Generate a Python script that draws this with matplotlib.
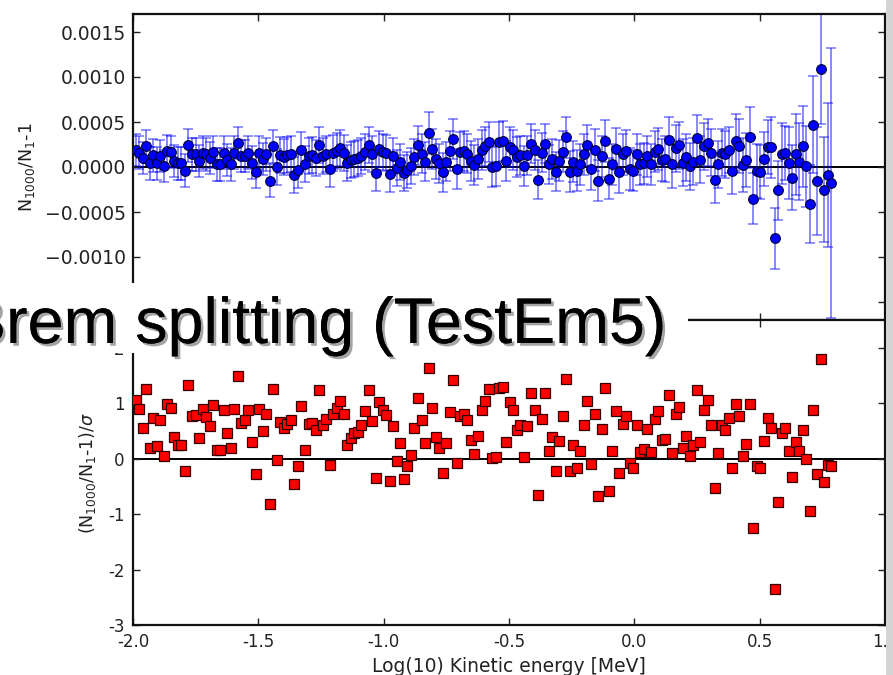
import matplotlib
matplotlib.use('Agg')
import matplotlib.pyplot as plt
import matplotlib.patheffects as pe
from matplotlib.patches import Rectangle
import numpy as np

# bin centres in log10(E/MeV)
x_first, x_last = -1.99, 0.785

# (N1000/N1 - 1) / sigma
pull = [
    1.05, 0.89, 0.55, 1.25, 0.20, 0.74, 0.22, 0.69, 0.05, 0.99,
    0.92, 0.39, 0.24, 0.24, -0.22, 1.33, 0.77, 0.78, 0.38, 0.89,
    0.75, 0.58, 0.96, 0.16, 0.16, 0.87, 0.46, 0.19, 0.89, 1.49,
    0.65, 0.69, 0.87, 0.30, -0.28, 0.89, 0.49, 0.80, -0.82, 1.25,
    -0.02, 0.66, 0.55, 0.63, 0.70, -0.46, -0.13, 0.95, 0.16, 0.62,
    0.64, 0.51, 1.23, 0.60, 0.72, -0.11, 0.80, 0.92, 1.04, 0.80,
    0.24, 0.38, 0.46, 0.48, 0.60, 0.86, 1.23, 0.68, -0.35, 1.02,
    0.87, 0.78, -0.40, 0.58, -0.05, 0.28, -0.37, -0.13, 0.07, 0.56,
    1.09, 0.69, 0.28, 1.63, 0.92, 0.39, 0.19, -0.25, 0.28, 0.84,
    1.41, -0.07, 0.77, 0.80, 0.69, 0.33, 0.09, 0.40, 0.87, 1.04,
    1.25, 0.01, 0.03, 1.28, 1.30, 0.30, 1.02, 0.87, 0.51, 0.60,
    0.03, 0.58, 1.19, 0.87, -0.65, 0.72, 1.19, 0.13, 0.39, -0.22,
    0.31, 0.76, 1.43, -0.22, 0.24, -0.17, 0.14, 0.60, 1.04, -0.09,
    0.81, -0.67, 0.54, 1.27, -0.58, 0.14, 0.86, -0.25, 0.63, 0.77,
    -0.08, -0.16, 0.60, 0.12, 0.18, 0.54, 0.12, 0.72, 0.86, 0.33,
    0.35, 1.15, 0.10, 0.80, 0.94, 0.19, 0.41, 0.05, 0.24, 1.24,
    0.30, 0.87, 1.05, 0.60, -0.53, 0.10, 0.60, 0.52, 0.74, -0.16,
    0.98, 0.76, 0.05, 0.26, 0.98, -1.25, -0.13, -0.17, 0.31, 0.74,
    0.55, -2.35, -0.79, 0.46, 0.56, 0.13, -0.34, 0.30, 0.14, 0.51,
    0.00, -0.95, 0.87, -0.27, 1.79, -0.43, -0.11, -0.13,
]

# N1000/N1 - 1 in units of 1e-4, upper panel
ratio = [
    1.9, 1.6, 1.0, 2.3, 0.4, 1.3, 0.4, 1.2, 0.1, 1.8,
    1.7, 0.7, 0.4, 0.4, -0.4, 2.4, 1.4, 1.4, 0.7, 1.6,
    1.4, 1.0, 1.7, 0.3, 0.3, 1.6, 0.8, 0.3, 1.6, 2.7,
    1.2, 1.2, 1.6, 0.5, -0.5, 1.6, 0.9, 1.4, -1.5, 2.3,
    0.0, 1.3, 1.1, 1.3, 1.4, -0.9, -0.3, 1.9, 0.3, 1.2,
    1.3, 1.0, 2.5, 1.2, 1.4, -0.2, 1.6, 1.8, 2.1, 1.6,
    0.5, 0.8, 0.9, 1.0, 1.2, 1.7, 2.5, 1.4, -0.7, 2.0,
    1.7, 1.6, -0.8, 1.2, -0.1, 0.6, -0.7, -0.3, 0.1, 1.1,
    2.4, 1.5, 0.6, 3.8, 2.0, 0.9, 0.4, -0.6, 0.6, 1.8,
    3.1, -0.2, 1.7, 1.8, 1.5, 0.7, 0.2, 0.9, 1.9, 2.3,
    2.8, 0.0, 0.1, 2.8, 2.9, 0.7, 2.2, 1.9, 1.1, 1.3,
    0.1, 1.3, 2.6, 1.9, -1.4, 1.6, 2.6, 0.3, 0.9, -0.5,
    0.7, 1.7, 3.3, -0.5, 0.6, -0.4, 0.3, 1.4, 2.4, -0.2,
    1.9, -1.5, 1.2, 2.9, -1.3, 0.3, 2.0, -0.6, 1.4, 1.8,
    -0.2, -0.4, 1.4, 0.3, 0.4, 1.2, 0.3, 1.7, 2.0, 0.8,
    0.9, 3.0, 0.3, 2.1, 2.4, 0.5, 1.1, 0.1, 0.6, 3.2,
    0.8, 2.3, 2.7, 1.6, -1.4, 0.3, 1.6, 1.4, 1.9, -0.4,
    2.9, 2.3, 0.2, 0.8, 3.3, -3.5, -0.4, -0.5, 0.9, 2.2,
    2.2, -7.9, -2.6, 1.5, 1.6, 0.5, -1.2, 1.4, 0.6, 2.3,
    0.1, -4.1, 4.7, -1.6, 10.9, -2.5, -0.9, -1.8,
]

# statistical error on the ratio, units of 1e-4
ratio_err = [
    1.8, 1.8, 1.8, 1.8, 1.8, 1.8, 1.8, 1.8, 1.8, 1.8,
    1.8, 1.8, 1.8, 1.8, 1.8, 1.8, 1.8, 1.8, 1.8, 1.8,
    1.8, 1.8, 1.8, 1.8, 1.8, 1.8, 1.8, 1.8, 1.8, 1.8,
    1.8, 1.8, 1.8, 1.8, 1.8, 1.8, 1.8, 1.8, 1.8, 1.8,
    2.0, 2.0, 2.0, 2.0, 2.0, 2.0, 2.0, 2.0, 2.0, 2.0,
    2.0, 2.0, 2.0, 2.0, 2.0, 2.0, 2.0, 2.0, 2.0, 2.0,
    2.0, 2.0, 2.0, 2.0, 2.0, 2.0, 2.0, 2.0, 2.0, 2.0,
    2.0, 2.0, 2.0, 2.0, 2.0, 2.0, 2.0, 2.0, 2.0, 2.0,
    2.2, 2.2, 2.2, 2.3, 2.2, 2.2, 2.2, 2.2, 2.2, 2.2,
    2.2, 2.2, 2.2, 2.2, 2.2, 2.2, 2.2, 2.2, 2.2, 2.2,
    2.2, 2.2, 2.2, 2.2, 2.2, 2.2, 2.2, 2.2, 2.2, 2.2,
    2.2, 2.2, 2.2, 2.2, 2.2, 2.2, 2.2, 2.2, 2.2, 2.2,
    2.3, 2.3, 2.3, 2.3, 2.3, 2.3, 2.3, 2.3, 2.3, 2.3,
    2.3, 2.3, 2.3, 2.3, 2.3, 2.3, 2.3, 2.3, 2.3, 2.3,
    2.3, 2.3, 2.3, 2.3, 2.3, 2.3, 2.3, 2.3, 2.3, 2.3,
    2.6, 2.6, 2.6, 2.6, 2.6, 2.6, 2.6, 2.6, 2.6, 2.6,
    2.6, 2.6, 2.6, 2.6, 2.6, 2.6, 2.6, 2.6, 2.6, 2.6,
    3.0, 3.0, 3.0, 3.0, 3.4, 2.8, 3.0, 3.0, 3.0, 3.0,
    3.4, 3.4, 3.3, 3.4, 3.0, 4.0, 3.6, 4.5, 4.3, 4.5,
    4.5, 4.3, 5.4, 6.0, 6.1, 5.8, 8.0, 15.0,
]

x_ticks = [-2.0, -1.5, -1.0, -0.5, 0.0, 0.5, 1.0]
x_ticklabels = ['-2.0', '-1.5', '-1.0', '-0.5', '0.0', '0.5', '1.0']
ratio_ticks = [-0.0015, -0.0010, -0.0005, 0.0, 0.0005, 0.0010, 0.0015]
pull_ticks = [-3, -2, -1, 0, 1, 2]
pull_ticklabels = ['-3', '-2', '-1', '0', '1', '2']

title = 'Brem splitting (TestEm5)'

x = np.linspace(x_first, x_last, len(pull))
ratio = np.array(ratio) * 1e-4
ratio_err = np.array(ratio_err) * 1e-4

W, H = 893, 675
fig = plt.figure(figsize=(W / 100, H / 100), dpi=100)
fig.patch.set_facecolor('white')


def px_box(left, top, right, bottom):
    """Figure-fraction rect from pixel edges."""
    return [left / W, 1 - bottom / H, (right - left) / W, (bottom - top) / H]


ax_top = fig.add_axes(px_box(133, 14, 885, 320))
ax_bot = fig.add_axes(px_box(133, 320, 885, 625), sharex=ax_top)

for ax in (ax_top, ax_bot):
    ax.tick_params(direction='in', top=True, right=True, length=5,
                   width=1, colors='#222222')
    for sp in ax.spines.values():
        sp.set_linewidth(1.6)
        sp.set_color('#111111')
    ax.axhline(0, color='black', lw=1.4, zorder=1)

ax_top.errorbar(x, ratio, yerr=ratio_err, fmt='none', ecolor='blue',
                alpha=0.5, elinewidth=1.3, capsize=3.5, capthick=1.2,
                zorder=2)
ax_top.plot(x, ratio, 'o', color='blue', markersize=7,
            markeredgecolor='#000033', markeredgewidth=0.8, zorder=3)
ax_top.set_xlim(-2.0, 1.0)
ax_top.set_ylim(-0.0017, 0.0017)
ax_top.set_yticks(ratio_ticks)
ax_top.yaxis.set_major_formatter(
    matplotlib.ticker.FuncFormatter(lambda v, p: f'{v:.4f}'.replace('-', '\u2212')))
ax_top.tick_params(axis='y', labelsize=13.5, pad=5)
ax_top.tick_params(axis='x', labelbottom=False)
ax_top.set_ylabel(r'N$_{1000}$/N$_1$-1', fontsize=12.5, color='#222222')
ax_top.yaxis.set_label_coords(-0.128, 0.5)

ax_bot.plot(x, pull, 's', color='red', markersize=6.8,
            markeredgecolor='#330000', markeredgewidth=0.9, zorder=3)
ax_bot.set_ylim(-3, 2.5)
ax_bot.set_yticks(pull_ticks)
ax_bot.set_yticklabels(pull_ticklabels)
ax_bot.set_xticks(x_ticks)
ax_bot.set_xticklabels(x_ticklabels)
ax_bot.tick_params(labelsize=12, pad=6)
ax_bot.set_ylabel(r'(N$_{1000}$/N$_1$-1)/$\sigma$', fontsize=12.5,
                  color='#222222')
ax_bot.yaxis.set_label_coords(-0.047, 0.5)
ax_bot.set_xlabel('Log(10) Kinetic energy [MeV]', fontsize=13.5,
                  color='#222222', labelpad=4)

# slide overlay: white title strip and grey page edge
fig.add_artist(Rectangle((0, 1 - 353 / H), 688 / W, 70 / H,
                         transform=fig.transFigure, facecolor='white',
                         edgecolor='none', zorder=10))
fig.add_artist(Rectangle((886 / W, 0), 7 / W, 1, transform=fig.transFigure,
                         facecolor='#d4d4d4', edgecolor='none', zorder=10))
fig.text(-37 / W, 1 - 343 / H, title, fontsize=46.5,
         family='Liberation Sans', color='black', ha='left', va='baseline',
         zorder=11,
         path_effects=[pe.withSimplePatchShadow(offset=(2, -2),
                                                shadow_rgbFace='#9a9a9a',
                                                alpha=0.9),
                       pe.Normal()])

fig.savefig('out.png', dpi=100)
